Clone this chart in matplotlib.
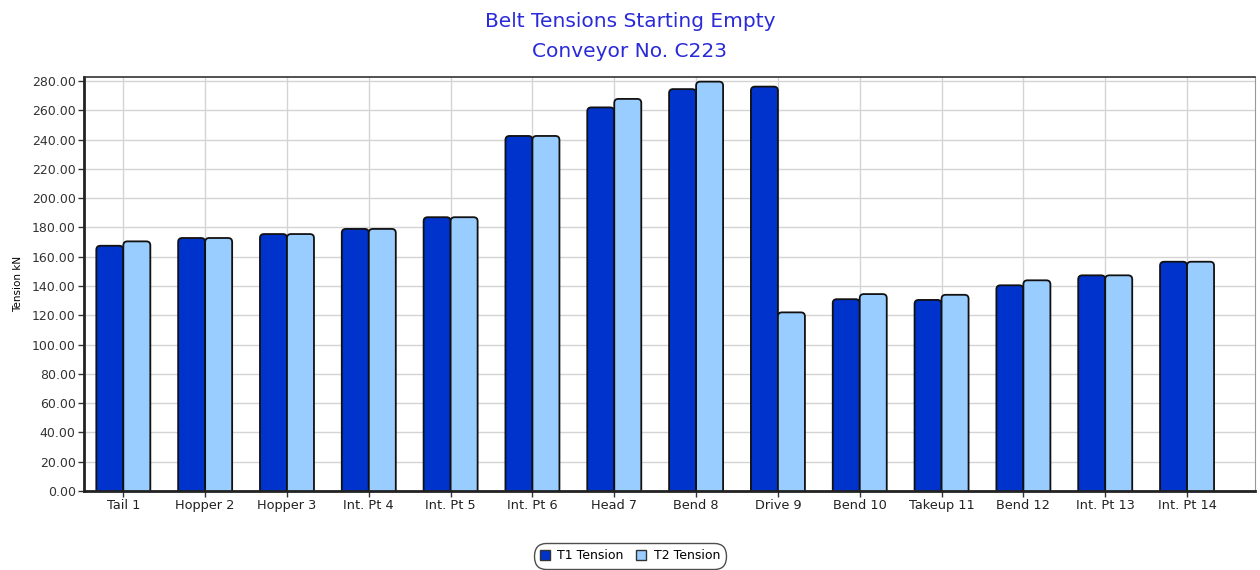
import numpy as np
import matplotlib
matplotlib.use('Agg')
import matplotlib.pyplot as plt
from matplotlib.patches import FancyBboxPatch, Patch

# data
points = ['Tail 1', 'Hopper 2', 'Hopper 3', 'Int. Pt 4', 'Int. Pt 5', 'Int. Pt 6', 'Head 7',
          'Bend 8', 'Drive 9', 'Bend 10', 'Takeup 11', 'Bend 12', 'Int. Pt 13', 'Int. Pt 14']
t1 = [167.5, 172.8, 175.5, 179.0, 187.0, 242.5, 262.0, 274.5, 276.2, 131.0, 130.5, 140.5, 147.3, 156.6]
t2 = [170.5, 172.8, 175.5, 179.0, 187.0, 242.5, 267.8, 279.6, 122.0, 134.5, 134.0, 143.9, 147.3, 156.6]
yticks = np.arange(0, 281, 20)

c1 = '#0033cc'
c2 = '#99ccff'

fig = plt.figure(figsize=(12.6, 5.7), dpi=100)
ax = fig.add_axes([0.0667, 0.1386, 0.9293, 0.7264])

x = np.arange(len(points))
w = 0.33
b1 = ax.bar(x - w/2, t1, w, color=c1, zorder=3)
b2 = ax.bar(x + w/2, t2, w, color=c2, zorder=3)

ax.set_xlim(-0.48, 13.83)
ax.set_ylim(0, 282.8)

# swap the plain bars for ones with rounded corners (bottom pushed under the axis)
asp = 54.6
for bars in (b1, b2):
    for r in bars:
        r.set_visible(False)
        p = FancyBboxPatch((r.get_x(), r.get_y() - 4), r.get_width(), r.get_height() + 4,
                           boxstyle='round,pad=0,rounding_size=0.05', mutation_aspect=asp,
                           facecolor=r.get_facecolor(), edgecolor='#111111', linewidth=1.3, zorder=3)
        ax.add_patch(p)

ax.set_yticks(yticks)
ax.set_yticklabels(['%.2f' % v for v in yticks], fontsize=9, color='#333333')
ax.set_xticks(x)
ax.set_xticklabels(points, fontsize=9.3, color='#222222')
ax.grid(True, color='#d4d4d4', linewidth=1.0, zorder=0)
ax.tick_params(axis='both', length=4, width=1, color='#333333', pad=2)

ax.spines['left'].set_linewidth(2)
ax.spines['bottom'].set_linewidth(2)
ax.spines['left'].set_color('#222222')
ax.spines['bottom'].set_color('#222222')
ax.spines['top'].set_linewidth(1.2)
ax.spines['top'].set_color('#333333')
ax.spines['right'].set_color('#999999')
for s in ax.spines.values():
    s.set_zorder(4)

ax.set_ylabel('Tension kN', fontsize=7.5, labelpad=6)

fig.text(0.5, 0.963, 'Belt Tensions Starting Empty', ha='center', va='center', fontsize=14.5, color='#2a2ad8')
fig.text(0.5, 0.91, 'Conveyor No. C223', ha='center', va='center', fontsize=14.5, color='#2a2ad8')

handles = [Patch(facecolor=c1, edgecolor='#333333', label='T1 Tension'),
           Patch(facecolor=c2, edgecolor='#333333', label='T2 Tension')]
leg = fig.legend(handles=handles, loc='center', bbox_to_anchor=(0.5, 0.025), ncol=2, fontsize=9,
                 frameon=True, fancybox=True, handlelength=0.8, handleheight=0.8, handletextpad=0.6,
                 columnspacing=1.0, borderpad=0.3, borderaxespad=0, edgecolor='#222222')
leg.get_frame().set_linewidth(1.0)
leg.get_frame().set_boxstyle('round', pad=0.2, rounding_size=1.0)

plt.savefig('out.png', dpi=100)
